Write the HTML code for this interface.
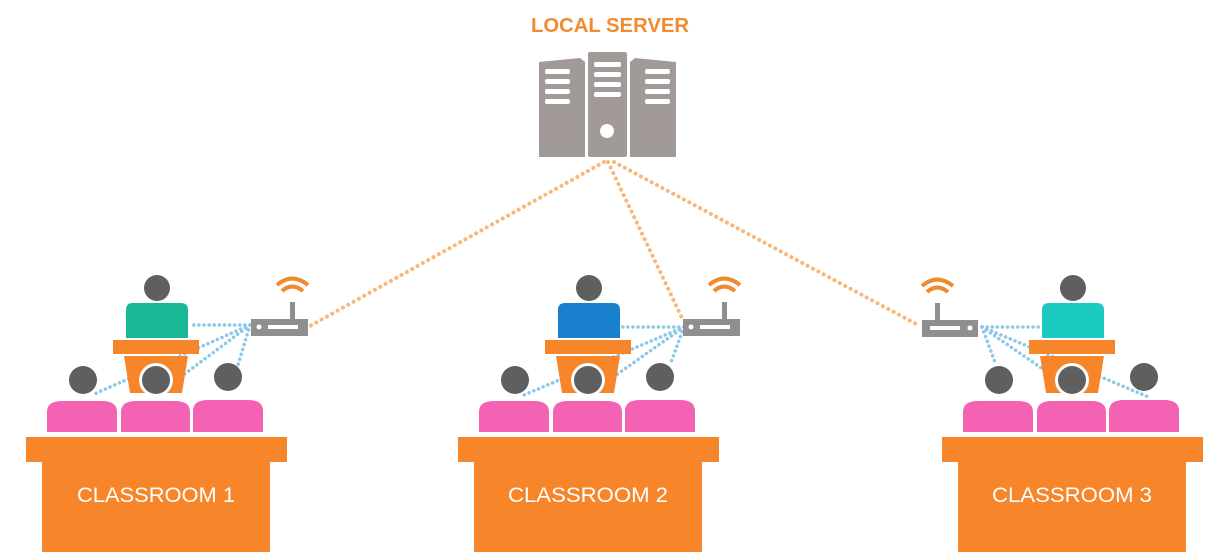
<!DOCTYPE html>
<html><head><meta charset="utf-8"><style>
html,body{margin:0;padding:0;background:#fff;}
svg{display:block;}
text{font-family:"Liberation Sans",sans-serif;}
</style></head><body>
<svg width="1220" height="557" viewBox="0 0 1220 557" xmlns="http://www.w3.org/2000/svg">
<g stroke="#f9b77a" stroke-width="4" stroke-dasharray="0.1 6" stroke-linecap="round" fill="none">
<line x1="604" y1="162" x2="310" y2="326"/>
<line x1="608" y1="162" x2="682" y2="318"/>
<line x1="614" y1="162" x2="920" y2="326"/>
</g>
<text x="610" y="32" text-anchor="middle" font-size="20" font-weight="bold" fill="#f28a2e" textLength="158" lengthAdjust="spacingAndGlyphs">LOCAL SERVER</text>
<g fill="#a19a99">
<path d="M539,62 L580,58 L585,62 L585,157 L539,157 Z"/>
<rect x="588" y="52" width="39" height="105" rx="2"/>
<path d="M630,62 L635,58 L676,62 L676,157 L630,157 Z"/>
</g>
<g fill="#fff">
<rect x="545" y="69" width="25" height="5" rx="2"/><rect x="545" y="79" width="25" height="5" rx="2"/><rect x="545" y="89" width="25" height="5" rx="2"/><rect x="545" y="99" width="25" height="5" rx="2"/>
<rect x="594" y="62" width="27" height="5" rx="2"/><rect x="594" y="72" width="27" height="5" rx="2"/><rect x="594" y="82" width="27" height="5" rx="2"/><rect x="594" y="92" width="27" height="5" rx="2"/>
<circle cx="607" cy="131" r="7"/>
<rect x="645" y="69" width="25" height="5" rx="2"/><rect x="645" y="79" width="25" height="5" rx="2"/><rect x="645" y="89" width="25" height="5" rx="2"/><rect x="645" y="99" width="25" height="5" rx="2"/>
</g>

<g>
<g stroke="#8cc8e8" stroke-width="3.5" stroke-dasharray="0.1 5" stroke-linecap="round" fill="none">
<line x1="250" y1="325" x2="190" y2="325"/>
<line x1="250" y1="325" x2="92" y2="395"/>
<line x1="250" y1="325" x2="170" y2="385"/>
<line x1="250" y1="325" x2="238" y2="365"/>
</g>
<circle cx="157" cy="288" r="13" fill="#5f5f5f"/>
<path d="M126,338 L126,310 Q126,303 133,303 L181,303 Q188,303 188,310 L188,338 Z" fill="#18b896"/>
<rect x="113" y="340" width="86" height="14" fill="#f7852a"/>
<path d="M124,356 L188,356 L182,393 L130,393 Z" fill="#f7852a"/>
<circle cx="156" cy="380" r="17" fill="#fff"/>
<circle cx="83" cy="380" r="14" fill="#5f5f5f"/>
<circle cx="156" cy="380" r="14" fill="#5f5f5f"/>
<circle cx="228" cy="377" r="14" fill="#5f5f5f"/>
<path d="M47,432 L47,412 Q47,401 62,401 L102,401 Q117,401 117,412 L117,432 Z" fill="#f462b3"/>
<path d="M121,432 L121,412 Q121,401 136,401 L175,401 Q190,401 190,412 L190,432 Z" fill="#f462b3"/>
<path d="M193,432 L193,411 Q193,400 208,400 L248,400 Q263,400 263,411 L263,432 Z" fill="#f462b3"/>
<rect x="26" y="437" width="261" height="25" fill="#f7852a"/>
<rect x="42" y="462" width="228" height="90" fill="#f7852a"/>
<text x="156" y="502" text-anchor="middle" font-size="21" fill="#fff" textLength="158" lengthAdjust="spacingAndGlyphs">CLASSROOM 1</text>
<rect x="251" y="319" width="57" height="17" fill="#8f8f8f"/>
<rect x="290" y="302" width="5" height="17" fill="#8f8f8f"/>
<circle cx="259" cy="327" r="2.5" fill="#fff"/><rect x="268" y="325" width="30" height="4" fill="#fff"/>
<path d="M282,291 Q292,282 303,291" stroke="#f28a2e" stroke-width="4" fill="none"/>
<path d="M277,285 Q292,272 308,285" stroke="#f28a2e" stroke-width="4" fill="none"/>
</g>

<g transform="translate(432,0)">
<g stroke="#8cc8e8" stroke-width="3.5" stroke-dasharray="0.1 5" stroke-linecap="round" fill="none">
<line x1="252" y1="327" x2="190" y2="327"/>
<line x1="252" y1="327" x2="92" y2="395"/>
<line x1="252" y1="327" x2="170" y2="385"/>
<line x1="252" y1="327" x2="238" y2="365"/>
</g>
<circle cx="157" cy="288" r="13" fill="#5f5f5f"/>
<path d="M126,338 L126,310 Q126,303 133,303 L181,303 Q188,303 188,310 L188,338 Z" fill="#1a7fcc"/>
<rect x="113" y="340" width="86" height="14" fill="#f7852a"/>
<path d="M124,356 L188,356 L182,393 L130,393 Z" fill="#f7852a"/>
<circle cx="156" cy="380" r="17" fill="#fff"/>
<circle cx="83" cy="380" r="14" fill="#5f5f5f"/>
<circle cx="156" cy="380" r="14" fill="#5f5f5f"/>
<circle cx="228" cy="377" r="14" fill="#5f5f5f"/>
<path d="M47,432 L47,412 Q47,401 62,401 L102,401 Q117,401 117,412 L117,432 Z" fill="#f462b3"/>
<path d="M121,432 L121,412 Q121,401 136,401 L175,401 Q190,401 190,412 L190,432 Z" fill="#f462b3"/>
<path d="M193,432 L193,411 Q193,400 208,400 L248,400 Q263,400 263,411 L263,432 Z" fill="#f462b3"/>
<rect x="26" y="437" width="261" height="25" fill="#f7852a"/>
<rect x="42" y="462" width="228" height="90" fill="#f7852a"/>
<text x="156" y="502" text-anchor="middle" font-size="21" fill="#fff" textLength="160" lengthAdjust="spacingAndGlyphs">CLASSROOM 2</text>
<rect x="251" y="319" width="57" height="17" fill="#8f8f8f"/>
<rect x="290" y="302" width="5" height="17" fill="#8f8f8f"/>
<circle cx="259" cy="327" r="2.5" fill="#fff"/><rect x="268" y="325" width="30" height="4" fill="#fff"/>
<path d="M282,291 Q292,282 303,291" stroke="#f28a2e" stroke-width="4" fill="none"/>
<path d="M277,285 Q292,272 308,285" stroke="#f28a2e" stroke-width="4" fill="none"/>
</g>

<g transform="translate(916,0)">
<g stroke="#8cc8e8" stroke-width="3.5" stroke-dasharray="0.1 5" stroke-linecap="round" fill="none">
<line x1="66" y1="327" x2="126" y2="327"/>
<line x1="66" y1="327" x2="235" y2="398"/>
<line x1="66" y1="327" x2="150" y2="385"/>
<line x1="66" y1="327" x2="80" y2="365"/>
</g>
<circle cx="157" cy="288" r="13" fill="#5f5f5f"/>
<path d="M126,338 L126,310 Q126,303 133,303 L181,303 Q188,303 188,310 L188,338 Z" fill="#1ccbc0"/>
<rect x="113" y="340" width="86" height="14" fill="#f7852a"/>
<path d="M124,356 L188,356 L182,393 L130,393 Z" fill="#f7852a"/>
<circle cx="156" cy="380" r="17" fill="#fff"/>
<circle cx="83" cy="380" r="14" fill="#5f5f5f"/>
<circle cx="156" cy="380" r="14" fill="#5f5f5f"/>
<circle cx="228" cy="377" r="14" fill="#5f5f5f"/>
<path d="M47,432 L47,412 Q47,401 62,401 L102,401 Q117,401 117,412 L117,432 Z" fill="#f462b3"/>
<path d="M121,432 L121,412 Q121,401 136,401 L175,401 Q190,401 190,412 L190,432 Z" fill="#f462b3"/>
<path d="M193,432 L193,411 Q193,400 208,400 L248,400 Q263,400 263,411 L263,432 Z" fill="#f462b3"/>
<rect x="26" y="437" width="261" height="25" fill="#f7852a"/>
<rect x="42" y="462" width="228" height="90" fill="#f7852a"/>
<text x="156" y="502" text-anchor="middle" font-size="21" fill="#fff" textLength="160" lengthAdjust="spacingAndGlyphs">CLASSROOM 3</text>
<rect x="6" y="320" width="56" height="17" fill="#8f8f8f"/>
<rect x="19" y="303" width="5" height="17" fill="#8f8f8f"/>
<rect x="14" y="326" width="30" height="4" fill="#fff"/><circle cx="54" cy="328" r="2.5" fill="#fff"/>
<path d="M11,292 Q21,283 32,292" stroke="#f28a2e" stroke-width="4" fill="none"/>
<path d="M6,286 Q21,273 37,286" stroke="#f28a2e" stroke-width="4" fill="none"/>
</g>
</svg>
</body></html>
